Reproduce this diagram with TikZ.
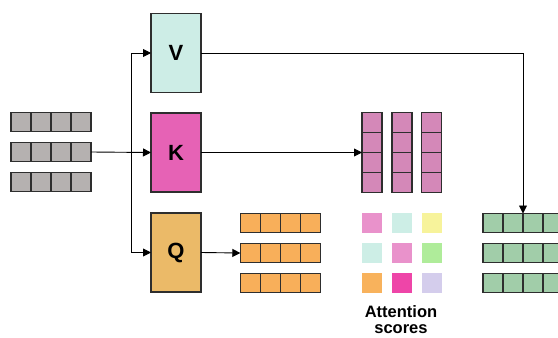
\documentclass[tikz,border=0pt]{standalone}
\usepackage{fontspec}
\setmainfont{Liberation Sans}
\usetikzlibrary{arrows.meta}
\definecolor{greyc}{HTML}{B5B1B0}
\definecolor{vfill}{HTML}{CDEDE6}
\definecolor{kfill}{HTML}{E662B5}
\definecolor{qfill}{HTML}{EBBA68}
\definecolor{orangec}{HTML}{F8AF5A}
\definecolor{pinkc}{HTML}{D488B8}
\definecolor{greenc}{HTML}{A1CDA9}
\definecolor{edgec}{HTML}{2E2E2E}
\definecolor{sA}{HTML}{E992CB}
\definecolor{sB}{HTML}{CDEEE6}
\definecolor{sC}{HTML}{F7F39B}
\definecolor{sD}{HTML}{AFEC9A}
\definecolor{sE}{HTML}{F8B25C}
\definecolor{sF}{HTML}{EE45A8}
\definecolor{sG}{HTML}{D4CDEC}
\tikzset{
  cell/.style={draw=edgec, line width=1.1pt, minimum width=20pt, minimum height=19pt, inner sep=0pt, outer sep=0pt},
  vcell/.style={cell, minimum height=20pt},
  score/.style={draw=white, line width=0.6pt, minimum width=21pt, minimum height=21pt, inner sep=0pt, outer sep=0pt},
  bigbox/.style={draw=edgec, line width=1.1pt, minimum width=50pt, minimum height=79pt, inner sep=0pt, outer sep=0pt, font=\bfseries\fontsize{22}{22}\selectfont},
  arr/.style={draw=black, line width=0.9pt, -{Triangle[length=8pt,width=8pt]}},
  plain/.style={draw=black, line width=0.9pt},
  lbl/.style={font=\bfseries\fontsize{16.5}{16}\selectfont, inner sep=0pt, align=center}
}
\begin{document}
\begin{tikzpicture}[x=1pt,y=-1pt]
\useasboundingbox (0,0) rectangle (558,338);
% input rows
\foreach \r/\yy in {1/122,2/152,3/182}
  \foreach \c in {1,...,4}
    \node[cell, fill=greyc] (in\r-\c) at ({1+20*\c},\yy) {};
% boxes
\node[bigbox, fill=vfill] (V) at (176,53) {V};
\node[bigbox, fill=kfill] (K) at (176,152.5) {K};
\node[bigbox, fill=qfill] (Q) at (176,252.5) {Q};
% orange rows
\foreach \r/\yy in {1/223,2/253,3/283}
  \foreach \c in {1,...,4}
    \node[cell, fill=orangec] (o\r-\c) at ({230.3+20*\c},\yy) {};
% pink columns
\foreach \c/\xx in {1/372,2/402,3/431.3}
  \foreach \r in {1,...,4}
    \node[vcell, fill=pinkc] (p\c-\r) at (\xx,{102.7+20*\r}) {};
% attention scores
\node[score, fill=sA] (s1-1) at (371.5,223) {};
\node[score, fill=sB] (s1-2) at (402,223) {};
\node[score, fill=sC] (s1-3) at (431.5,223) {};
\node[score, fill=sB] (s2-1) at (371.5,253) {};
\node[score, fill=sA] (s2-2) at (402,253) {};
\node[score, fill=sD] (s2-3) at (431.5,253) {};
\node[score, fill=sE] (s3-1) at (371.5,283) {};
\node[score, fill=sF] (s3-2) at (402,283) {};
\node[score, fill=sG] (s3-3) at (431.5,283) {};
\node[lbl, anchor=south] (att) at (401,334) {Attention\\scores};
% green rows
\foreach \r/\yy in {1/223,2/253,3/283}
  \foreach \c in {1,...,4}
    \node[cell, fill=greenc] (g\r-\c) at ({473+20*\c},\yy) {};
% connectors
\coordinate (jt) at (131,53);
\coordinate (jb) at (131,252.5);
\draw[plain] (jt) -- (jb);
\draw[arr] (jt) -- (V.west);
\draw[arr] (jb) -- (Q.west);
\draw[arr] (in2-4.east) -- (K.west);
\draw[arr] (K.east) -- (K.east -| p1-1.west);
\draw[arr] (Q.east) -- (o2-1.west);
\draw[arr] (V.east) -| (g1-2.north east);
\end{tikzpicture}
\end{document}
